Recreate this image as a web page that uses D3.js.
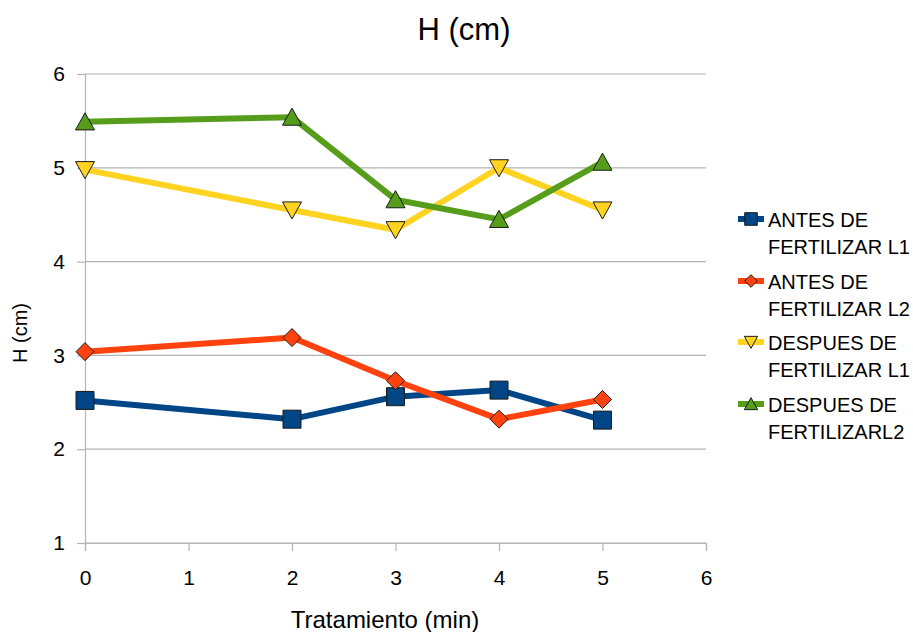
<!DOCTYPE html>
<html>
<head>
<meta charset="utf-8">
<script src="https://cdn.jsdelivr.net/npm/d3@7"></script>
<style>
  html, body { margin: 0; padding: 0; background: #fff; }
  svg { display: block; font-family: "Liberation Sans", Arial, sans-serif; }
</style>
</head>
<body>
<svg id="chart" width="913" height="632"></svg>
<script>
// Treatment times (x) shared by all series
const tiempos = [0, 2, 3, 4, 5];

// Plant height (cm) per series
const antesL1   = [2.52, 2.32, 2.56, 2.63, 2.31];
const antesL2   = [3.04, 3.19, 2.73, 2.32, 2.53];
const despuesL1 = [4.98, 4.55, 4.34, 5.00, 4.55];
const despuesL2 = [5.49, 5.54, 4.66, 4.45, 5.06];

const seriesNames = [
  ["ANTES DE", "FERTILIZAR L1"],
  ["ANTES DE", "FERTILIZAR L2"],
  ["DESPUES DE", "FERTILIZAR L1"],
  ["DESPUES DE", "FERTILIZARL2"]
];
const xTicks = [0, 1, 2, 3, 4, 5, 6];
const yTicks = [1, 2, 3, 4, 5, 6];

const colors  = ["#004586", "#ff420e", "#ffd320", "#579d1c"];
const shapes  = ["square", "diamond", "down", "up"];
const allVals = [antesL1, antesL2, despuesL1, despuesL2];

const svg = d3.select("#chart");

const x = d3.scaleLinear().domain([0, 6]).range([85, 706]);
const y = d3.scaleLinear().domain([1, 6]).range([543, 74]);

// Horizontal gridlines
svg.append("g").selectAll("line").data(yTicks).join("line")
  .attr("x1", x(0)).attr("x2", x(6))
  .attr("y1", d => y(d)).attr("y2", d => y(d))
  .attr("stroke", "#b3b3b3").attr("stroke-width", 1.2);

// Y axis
const yAxis = svg.append("g").attr("transform", `translate(${x(0)},0)`)
  .call(d3.axisLeft(y).tickValues(yTicks).tickSize(8).tickPadding(12).tickFormat(d3.format("d")));
yAxis.attr("font-size", null).attr("font-family", null);
yAxis.select(".domain").attr("stroke", "#b3b3b3").attr("stroke-width", 1.2);
yAxis.selectAll(".tick line").attr("stroke", "#b3b3b3").attr("stroke-width", 1.2);
yAxis.selectAll("text").style("font-size", "21px").attr("fill", "#000");

// X axis
const xAxis = svg.append("g").attr("transform", `translate(0,${y(1)})`)
  .call(d3.axisBottom(x).tickValues(xTicks).tickSize(8).tickPadding(19).tickFormat(d3.format("d")));
xAxis.attr("font-size", null).attr("font-family", null);
xAxis.select(".domain").attr("stroke", "#b3b3b3").attr("stroke-width", 1.2);
xAxis.selectAll(".tick line").attr("stroke", "#b3b3b3").attr("stroke-width", 1.2);
xAxis.selectAll("text").style("font-size", "21px").attr("fill", "#000");

// Marker path generator
function markerPath(shape, s) {
  switch (shape) {
    case "square":  return `M${-s},${-s}H${s}V${s}H${-s}Z`;
    case "diamond": return `M0,${-s}L${s},0L0,${s}L${-s},0Z`;
    case "down":    return `M${-s},${-s*0.85}H${s}L0,${s*0.95}Z`;
    case "up":      return `M${-s},${s*0.85}H${s}L0,${-s*0.95}Z`;
  }
}
const markerSize = [9, 9, 9.5, 9.5];

const line = d3.line().x(d => x(d[0])).y(d => y(d[1]));

allVals.forEach((vals, i) => {
  const pts = tiempos.map((t, j) => [t, vals[j]]);
  const g = svg.append("g");
  g.append("path").datum(pts)
    .attr("d", line)
    .attr("fill", "none")
    .attr("stroke", colors[i])
    .attr("stroke-width", 6)
    .attr("stroke-linejoin", "round");
  g.selectAll("path.m").data(pts).join("path")
    .attr("class", "m")
    .attr("transform", d => `translate(${x(d[0])},${y(d[1])})`)
    .attr("d", markerPath(shapes[i], markerSize[i]))
    .attr("fill", colors[i])
    .attr("stroke", "#1a1a1a")
    .attr("stroke-width", 1);
});

// Title
svg.append("text").attr("x", 464).attr("y", 40)
  .attr("text-anchor", "middle").style("font-size", "31px").text("H (cm)");

// Axis titles
svg.append("text").attr("transform", "translate(27,333) rotate(-90)")
  .attr("text-anchor", "middle").style("font-size", "20px").text("H (cm)");
svg.append("text").attr("x", 385).attr("y", 628)
  .attr("text-anchor", "middle").style("font-size", "24px").text("Tratamiento (min)");

// Legend
const legendTop = [227, 289, 350, 412];
seriesNames.forEach((lines, i) => {
  const cy = legendTop[i] - 8;
  const g = svg.append("g");
  g.append("line").attr("x1", 738).attr("x2", 764)
    .attr("y1", cy).attr("y2", cy)
    .attr("stroke", colors[i]).attr("stroke-width", 6);
  g.append("path")
    .attr("transform", `translate(751,${cy})`)
    .attr("d", markerPath(shapes[i], markerSize[i] * 0.7))
    .attr("fill", colors[i]).attr("stroke", "#1a1a1a").attr("stroke-width", 1);
  lines.forEach((t, k) => {
    g.append("text").attr("x", 768).attr("y", legendTop[i] + k * 27)
      .style("font-size", "20px").text(t);
  });
});
</script>
</body>
</html>
